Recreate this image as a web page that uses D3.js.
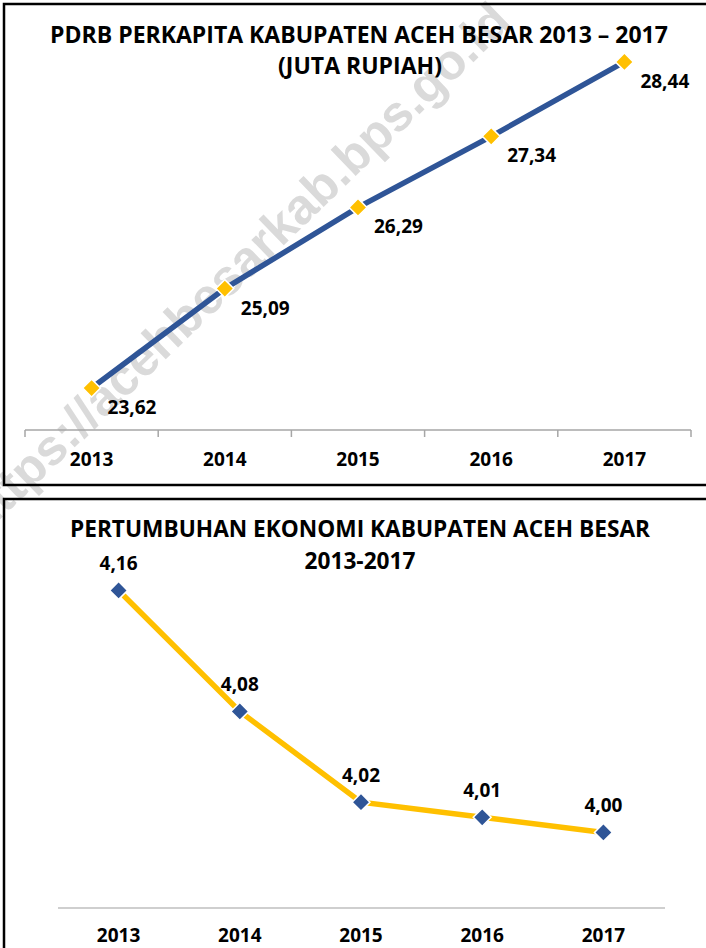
<!DOCTYPE html>
<html>
<head>
<meta charset="utf-8">
<script src="https://cdn.jsdelivr.net/npm/d3@7"></script>
<style>
  html, body { margin: 0; padding: 0; background: #fff; }
  svg { display: block; }
  text { font-family: "Open Sans", "DejaVu Sans", sans-serif; font-weight: bold; }
</style>
</head>
<body>
<svg id="chart" width="706" height="948"></svg>
<script>
// data
var years = ["2013", "2014", "2015", "2016", "2017"];
var pdrbValues = [23.62, 25.09, 26.29, 27.34, 28.44];
var growthValues = [4.16, 4.08, 4.02, 4.01, 4.00];
var pdrbTitle = ["PDRB PERKAPITA KABUPATEN ACEH BESAR 2013 \u2013 2017", "(JUTA RUPIAH)"];
var growthTitle = ["PERTUMBUHAN EKONOMI KABUPATEN ACEH BESAR", "2013-2017"];
var watermark = "https://acehbesarkab.bps.go.id";

var svg = d3.select("#chart");
var fmt = function(v) { return d3.format(".2f")(v).replace(".", ","); };

var BLUE = "#2f5597", GOLD = "#ffc000";
var diamond = d3.symbol().type(d3.symbolSquare).size(160);

// size a text so it spans the given width, returns the font size
function fit(sel, w) {
  var node = sel.node(), fs = parseFloat(sel.attr("font-size"));
  var size = (fs * w / node.getComputedTextLength()).toFixed(2);
  sel.attr("font-size", size);
  return size;
}

/** watermark (behind everything) **/
svg.append("text")
  .attr("transform", "translate(513,24) rotate(-44)")
  .attr("text-anchor", "end")
  .attr("font-size", 50)
  .style("font-family", "'Liberation Sans', Arial, sans-serif")
  .attr("fill", "#dadada")
  .text(watermark);

/** top chart: PDRB per kapita **/
var gTop = svg.append("g");
gTop.append("rect").attr("x", 4).attr("y", 4).attr("width", 720).attr("height", 481)
  .attr("fill", "none").attr("stroke", "#000").attr("stroke-width", 2.5);

var t1 = gTop.append("text").attr("x", 359).attr("y", 43).attr("text-anchor", "middle")
  .attr("font-size", 20).text(pdrbTitle[0]);
var fsTop = fit(t1, 618);
gTop.append("text").attr("x", 360).attr("y", 74).attr("text-anchor", "middle")
  .attr("font-size", fsTop).text(pdrbTitle[1]);

var x1 = d3.scaleBand().domain(years).range([25, 691]);
var y1 = d3.scaleLinear().domain([23, 29]).range([430, 24]);
var cx1 = function(d, i) { return x1(years[i]) + x1.bandwidth() / 2; };

var ax1 = gTop.append("g").attr("transform", "translate(0,430)");
ax1.append("line").attr("x1", 25).attr("x2", 691).attr("stroke", "#a6a6a6").attr("stroke-width", 1.5);
ax1.selectAll(".tk").data(years.concat(["end"])).enter().append("line")
  .attr("x1", function(d, i) { return i < years.length ? x1(d) : x1.range()[1]; })
  .attr("x2", function(d, i) { return i < years.length ? x1(d) : x1.range()[1]; })
  .attr("y1", 0).attr("y2", 7).attr("stroke", "#a6a6a6").attr("stroke-width", 1.5);
var xa1 = d3.axisBottom(x1).tickSize(0).tickPadding(0);
ax1.append("g").call(xa1).call(function(g) {
  g.select(".domain").remove();
  g.selectAll("text").attr("dy", null).attr("y", 36).attr("font-size", 19)
    .attr("fill", "#000").style("font-family", "'Open Sans', sans-serif").style("font-weight", "bold");
});

gTop.append("path").datum(pdrbValues)
  .attr("d", d3.line().x(cx1).y(function(d) { return y1(d); }))
  .attr("fill", "none").attr("stroke", BLUE).attr("stroke-width", 5.5);

gTop.selectAll(".mk").data(pdrbValues).enter().append("path")
  .attr("d", diamond)
  .attr("transform", function(d, i) { return "translate(" + cx1(d, i) + "," + y1(d) + ") rotate(45)"; })
  .attr("fill", GOLD).attr("stroke", "#fff").attr("stroke-width", 1.5);

gTop.selectAll(".lb").data(pdrbValues).enter().append("text")
  .attr("x", function(d, i) { return cx1(d, i) + 16; })
  .attr("y", function(d) { return y1(d) + 26; })
  .attr("font-size", 19).attr("fill", "#000").text(fmt);

/** bottom chart: pertumbuhan ekonomi **/
var gBot = svg.append("g");
gBot.append("rect").attr("x", 4).attr("y", 499).attr("width", 720).attr("height", 470)
  .attr("fill", "none").attr("stroke", "#000").attr("stroke-width", 2.5);

var t2 = gBot.append("text").attr("x", 360).attr("y", 537).attr("text-anchor", "middle")
  .attr("font-size", 20).text(growthTitle[0]);
var fsBot = fit(t2, 580);
gBot.append("text").attr("x", 360).attr("y", 569).attr("text-anchor", "middle")
  .attr("font-size", fsBot).text(growthTitle[1]);

var x2 = d3.scaleBand().domain(years).range([58, 664]);
var y2 = d3.scaleLinear().domain([3.95, 4.2]).range([908, 530]);
var cx2 = function(d, i) { return x2(years[i]) + x2.bandwidth() / 2; };

var ax2 = gBot.append("g").attr("transform", "translate(0,908)");
ax2.append("line").attr("x1", 58).attr("x2", 665).attr("stroke", "#bfbfbf").attr("stroke-width", 1.5);
ax2.append("g").call(d3.axisBottom(x2).tickSize(0).tickPadding(0)).call(function(g) {
  g.select(".domain").remove();
  g.selectAll("text").attr("dy", null).attr("y", 34).attr("font-size", 19)
    .attr("fill", "#000").style("font-family", "'Open Sans', sans-serif").style("font-weight", "bold");
});

gBot.append("path").datum(growthValues)
  .attr("d", d3.line().x(cx2).y(function(d) { return y2(d); }))
  .attr("fill", "none").attr("stroke", GOLD).attr("stroke-width", 5.5);

gBot.selectAll(".mk").data(growthValues).enter().append("path")
  .attr("d", diamond)
  .attr("transform", function(d, i) { return "translate(" + cx2(d, i) + "," + y2(d) + ") rotate(45)"; })
  .attr("fill", BLUE).attr("stroke", "#fff").attr("stroke-width", 1.5);

gBot.selectAll(".lb").data(growthValues).enter().append("text")
  .attr("x", cx2)
  .attr("y", function(d) { return y2(d) - 20; })
  .attr("text-anchor", "middle")
  .attr("font-size", 19).attr("fill", "#000").text(fmt);
</script>
</body>
</html>
